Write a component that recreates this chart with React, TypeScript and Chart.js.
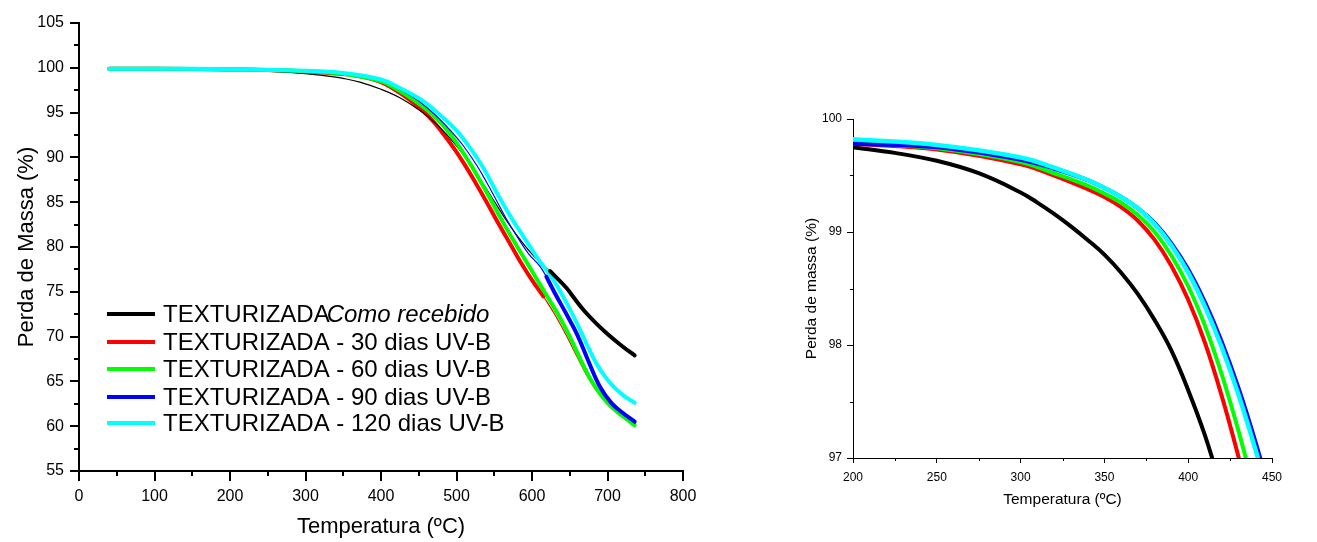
import React, { useEffect, useRef } from "react";
import { Chart, registerables } from "chart.js";

Chart.register(...registerables);

const FONT = "'Liberation Sans', Arial, Helvetica, sans-serif";

// ---------- Left chart data (Temperatura °C vs Perda de Massa %) ----------
const blackT = [40, 100, 150, 200, 250, 300, 332, 350, 372, 400, 425, 452, 475, 500, 520, 535, 550, 565, 580, 600, 612, 624, 646, 654, 670, 686, 700, 720, 736];
const blackM = [99.9, 99.9, 99.88, 99.8, 99.62, 99.35, 99.05, 98.82, 98.4, 97.6, 96.65, 95.2, 93.6, 91.3, 89.0, 87.1, 85.1, 83.1, 81.3, 79.2, 78.2, 77.3, 75.4, 74.5, 72.8, 71.4, 70.3, 68.9, 67.9];
const blackSplit = 624;

const redT = [40, 100, 200, 250, 300, 350, 375, 400, 425, 450, 465, 480, 496, 510, 525, 540, 555, 570, 585, 600, 615, 630, 645, 660, 675, 690, 705, 720, 736];
const redM = [99.9, 99.9, 99.82, 99.75, 99.6, 99.3, 99.0, 98.4, 97.2, 95.6, 94.4, 92.9, 91.1, 89.3, 87.2, 85.0, 82.7, 80.5, 78.3, 76.3, 74.5, 72.5, 70.2, 67.7, 65.3, 63.4, 62.0, 61.0, 60.2];
const redSplit = 615;

const greenT = [40, 100, 200, 300, 350, 400, 425, 450, 465, 485, 502, 518, 530, 544, 560, 575, 590, 605, 620, 635, 650, 665, 680, 695, 710, 722, 736];
const greenM = [99.9, 99.9, 99.82, 99.62, 99.33, 98.5, 97.4, 96.0, 95.0, 93.3, 91.4, 89.3, 87.6, 85.5, 83.0, 80.8, 78.7, 76.6, 74.5, 72.4, 70.0, 67.3, 64.9, 63.1, 61.8, 61.0, 60.1];

const blueT = [40, 100, 200, 300, 350, 400, 425, 450, 475, 492, 509, 527, 540, 551, 565, 580, 595, 610, 619, 630, 645, 660, 675, 690, 705, 720, 736];
const blueM = [99.9, 99.9, 99.83, 99.65, 99.4, 98.7, 97.6, 96.3, 94.5, 93.0, 91.3, 89.1, 87.2, 85.5, 83.3, 81.2, 79.3, 77.9, 76.7, 74.9, 72.6, 70.2, 67.2, 64.4, 62.6, 61.5, 60.5];
const blueSplit = 619;

const cyanT = [40, 100, 200, 300, 350, 400, 425, 450, 465, 480, 500, 515, 535, 555, 573, 590, 611, 624, 635, 650, 664, 675, 686, 697, 707, 720, 736];
const cyanM = [99.9, 99.9, 99.84, 99.67, 99.42, 98.7, 97.75, 96.6, 95.7, 94.6, 93.0, 91.4, 88.9, 85.8, 83.2, 81.0, 78.3, 76.9, 75.4, 73.1, 70.7, 68.7, 66.9, 65.5, 64.5, 63.5, 62.6];

const legendLabels = [
  "TEXTURIZADA - 30 dias UV-B",
  "TEXTURIZADA - 60 dias UV-B",
  "TEXTURIZADA - 90 dias UV-B",
  "TEXTURIZADA - 120 dias UV-B",
];
const legendFirstA = "TEXTURIZADA";
const legendFirstB = "Como recebido";

// ---------- Right chart data (zoom 200–450 °C) ----------
const zBlackT = [200, 225, 250, 275, 300, 310, 320, 330, 340, 350, 360, 370, 380, 390, 400, 410, 420];
const zBlackM = [99.75, 99.7, 99.63, 99.52, 99.35, 99.26, 99.16, 99.05, 98.93, 98.8, 98.64, 98.45, 98.22, 97.95, 97.6, 97.2, 96.72];
const zRedT = [200, 250, 300, 320, 340, 350, 360, 370, 380, 390, 400, 410, 420, 430, 440];
const zRedM = [99.78, 99.73, 99.6, 99.5, 99.38, 99.31, 99.22, 99.1, 98.93, 98.7, 98.4, 98.02, 97.55, 97.01, 96.41];
const zGreenT = [200, 250, 300, 320, 340, 350, 360, 370, 380, 390, 400, 410, 420, 430, 440];
const zGreenM = [99.79, 99.74, 99.62, 99.52, 99.41, 99.34, 99.26, 99.15, 99.0, 98.79, 98.52, 98.17, 97.74, 97.24, 96.68];
const zBlueT = [200, 250, 300, 320, 340, 350, 360, 370, 380, 390, 400, 410, 420, 430, 440, 450];
const zBlueM = [99.78, 99.75, 99.64, 99.56, 99.46, 99.39, 99.31, 99.21, 99.08, 98.9, 98.67, 98.38, 98.03, 97.62, 97.15, 96.63];
const zCyanT = [200, 250, 300, 320, 340, 350, 360, 370, 380, 390, 400, 410, 420, 430, 440, 450];
const zCyanM = [99.82, 99.77, 99.66, 99.57, 99.46, 99.39, 99.31, 99.21, 99.07, 98.88, 98.64, 98.34, 97.98, 97.56, 97.08, 96.55];

const COLORS = { black: "#000000", red: "#ff0000", green: "#00ff00", blue: "#0000ff", cyan: "#00ffff" };

function pts(t: number[], m: number[], from = -Infinity, to = Infinity) {
  const out: { x: number; y: number }[] = [];
  for (let i = 0; i < t.length; i++) if (t[i] >= from && t[i] <= to) out.push({ x: t[i], y: m[i] });
  return out;
}

function ds(label: string, data: any[], color: string, width: number, order: number) {
  return {
    label,
    data,
    borderColor: color,
    backgroundColor: color,
    borderWidth: width,
    pointRadius: 0,
    fill: false,
    tension: 0.4,
    borderCapStyle: "round" as const,
    borderJoinStyle: "round" as const,
    order,
  };
}

const minorTicksPlugin = {
  id: "minorTicks",
  afterDraw(chart: any, _args: any, opts: any) {
    const { ctx, chartArea } = chart;
    const xs = chart.scales.x;
    const ys = chart.scales.y;
    ctx.save();
    ctx.strokeStyle = "#000";
    ctx.lineWidth = opts.width;
    ctx.beginPath();
    for (let v = xs.min; v <= xs.max + 1e-9; v += opts.xMinor) {
      const r = v / opts.xMajor;
      if (Math.abs(r - Math.round(r)) < 1e-6) continue;
      const px = Math.round(xs.getPixelForValue(v)) + (opts.width % 2 ? 0.5 : 0);
      ctx.moveTo(px, chartArea.bottom);
      ctx.lineTo(px, chartArea.bottom + opts.len);
    }
    for (let v = ys.min; v <= ys.max + 1e-9; v += opts.yMinor) {
      const r = v / opts.yMajor;
      if (Math.abs(r - Math.round(r)) < 1e-6) continue;
      const py = Math.round(ys.getPixelForValue(v)) + (opts.width % 2 ? 0.5 : 0);
      ctx.moveTo(chartArea.left, py);
      ctx.lineTo(chartArea.left - opts.len, py);
    }
    ctx.stroke();
    ctx.restore();
  },
};

const customLegendPlugin = {
  id: "customLegend",
  afterDraw(chart: any) {
    const { ctx } = chart;
    const colors = [COLORS.black, COLORS.red, COLORS.green, COLORS.blue, COLORS.cyan];
    const rows = [314, 342, 369, 397, 423];
    const x0 = 107, x1 = 155, tx = 163;
    ctx.save();
    ctx.textBaseline = "middle";
    ctx.fillStyle = "#000";
    rows.forEach((y, i) => {
      ctx.strokeStyle = colors[i];
      ctx.lineWidth = 4;
      ctx.beginPath();
      ctx.moveTo(x0, y);
      ctx.lineTo(x1, y);
      ctx.stroke();
      ctx.font = `24px ${FONT}`;
      if (i === 0) {
        ctx.fillText(legendFirstA, tx, y + 1);
        const w = ctx.measureText(legendFirstA).width;
        ctx.font = `italic 24px ${FONT}`;
        ctx.fillText(legendFirstB, tx + w - 3, y + 1);
      } else {
        ctx.fillText(legendLabels[i - 1], tx, y + 1);
      }
    });
    ctx.restore();
  },
};

function leftConfig(): any {
  return {
    type: "line",
    data: {
      datasets: [
        ds("TEXTURIZADA Como recebido", pts(blackT, blackM, blackSplit), COLORS.black, 4, 0),
        ds("TEXTURIZADA - 120 dias UV-B", pts(cyanT, cyanM), COLORS.cyan, 4, 1),
        ds("TEXTURIZADA - 90 dias UV-B", pts(blueT, blueM, blueSplit), COLORS.blue, 4, 2),
        ds("TEXTURIZADA - 90 dias UV-B (a)", pts(blueT, blueM, -Infinity, blueSplit), COLORS.blue, 1.2, 3),
        ds("TEXTURIZADA - 60 dias UV-B", pts(greenT, greenM), COLORS.green, 4, 4),
        ds("TEXTURIZADA Como recebido (a)", pts(blackT, blackM, -Infinity, blackSplit), COLORS.black, 1.2, 5),
        ds("TEXTURIZADA - 30 dias UV-B", pts(redT, redM, -Infinity, redSplit), COLORS.red, 4, 6),
        ds("TEXTURIZADA - 30 dias UV-B (b)", pts(redT, redM, redSplit), COLORS.red, 1.2, 7),
      ],
    },
    options: {
      animation: false,
      responsive: false,
      devicePixelRatio: 1,
      layout: { padding: { left: 0, top: 23, right: 37, bottom: 0 } },
      plugins: {
        legend: { display: false },
        tooltip: { enabled: false },
        minorTicks: { xMinor: 50, xMajor: 100, yMinor: 2.5, yMajor: 5, len: 5, width: 2 },
      },
      scales: {
        x: {
          type: "linear",
          min: 0,
          max: 800,
          afterFit: (s: any) => { s.height = 71; },
          ticks: { stepSize: 100, color: "#000", font: { family: FONT, size: 16 }, padding: 6, maxRotation: 0 },
          grid: { drawOnChartArea: false, drawTicks: true, tickLength: 10, color: "#000", lineWidth: 2 },
          border: { display: true, color: "#000", width: 2 },
          title: { display: true, text: "Temperatura (ºC)", color: "#000", font: { family: FONT, size: 22 }, padding: { top: 4, bottom: 2 } },
        },
        y: {
          type: "linear",
          min: 55,
          max: 105,
          afterFit: (s: any) => { s.width = 79; },
          ticks: { stepSize: 5, color: "#000", font: { family: FONT, size: 16 }, padding: 6 },
          grid: { drawOnChartArea: false, drawTicks: true, tickLength: 9, color: "#000", lineWidth: 2 },
          border: { display: true, color: "#000", width: 2 },
          title: { display: true, text: "Perda de Massa (%)", color: "#000", font: { family: FONT, size: 22 }, padding: { top: 14, bottom: 0 } },
        },
      },
    },
    plugins: [minorTicksPlugin, customLegendPlugin],
  };
}

function rightConfig(): any {
  return {
    type: "line",
    data: {
      datasets: [
        ds("TEXTURIZADA - 120 dias UV-B", pts(zCyanT, zCyanM), COLORS.cyan, 4.5, 0),
        ds("TEXTURIZADA - 90 dias UV-B", pts(zBlueT, zBlueM), COLORS.blue, 4, 1),
        ds("TEXTURIZADA - 60 dias UV-B", pts(zGreenT, zGreenM), COLORS.green, 4, 2),
        ds("TEXTURIZADA - 30 dias UV-B", pts(zRedT, zRedM), COLORS.red, 4, 3),
        ds("TEXTURIZADA Como recebido", pts(zBlackT, zBlackM), COLORS.black, 4, 4),
      ],
    },
    options: {
      animation: false,
      responsive: false,
      devicePixelRatio: 1,
      layout: { padding: { left: 0, top: 29, right: 45, bottom: 0 } },
      plugins: {
        legend: { display: false },
        tooltip: { enabled: false },
        minorTicks: { xMinor: 25, xMajor: 50, yMinor: 0.5, yMajor: 1, len: 3, width: 1 },
      },
      scales: {
        x: {
          type: "linear",
          min: 200,
          max: 450,
          afterFit: (s: any) => { s.height = 84; },
          ticks: { stepSize: 50, color: "#000", font: { family: FONT, size: 12 }, padding: 7, maxRotation: 0 },
          grid: { drawOnChartArea: false, drawTicks: true, tickLength: 5, color: "#000", lineWidth: 1 },
          border: { display: true, color: "#000", width: 1 },
          title: { display: true, text: "Temperatura (ºC)", color: "#000", font: { family: FONT, size: 15.5 }, padding: { top: 4, bottom: 32.7 } },
        },
        y: {
          type: "linear",
          min: 97,
          max: 100,
          afterFit: (s: any) => { s.width = 63; },
          ticks: { stepSize: 1, color: "#000", font: { family: FONT, size: 12 }, padding: 5 },
          grid: { drawOnChartArea: false, drawTicks: true, tickLength: 6, color: "#000", lineWidth: 1 },
          border: { display: true, color: "#000", width: 1 },
          title: { display: true, text: "Perda de massa (%)", color: "#000", font: { family: FONT, size: 15.5 }, padding: { top: 12.7, bottom: 0 } },
        },
      },
    },
    plugins: [minorTicksPlugin],
  };
}

export default function App() {
  const leftRef = useRef<HTMLCanvasElement | null>(null);
  const rightRef = useRef<HTMLCanvasElement | null>(null);

  useEffect(() => {
    const c1 = new Chart(leftRef.current as HTMLCanvasElement, leftConfig());
    const c2 = new Chart(rightRef.current as HTMLCanvasElement, rightConfig());
    return () => {
      c1.destroy();
      c2.destroy();
    };
  }, []);

  return (
    <div style={{ position: "absolute", left: 0, top: 0, width: 1317, height: 542, background: "#fff", overflow: "hidden" }}>
      <canvas ref={leftRef} width={720} height={542} style={{ position: "absolute", left: 0, top: 0, width: 720, height: 542 }} />
      <canvas ref={rightRef} width={527} height={452} style={{ position: "absolute", left: 790, top: 90, width: 527, height: 452 }} />
    </div>
  );
}
